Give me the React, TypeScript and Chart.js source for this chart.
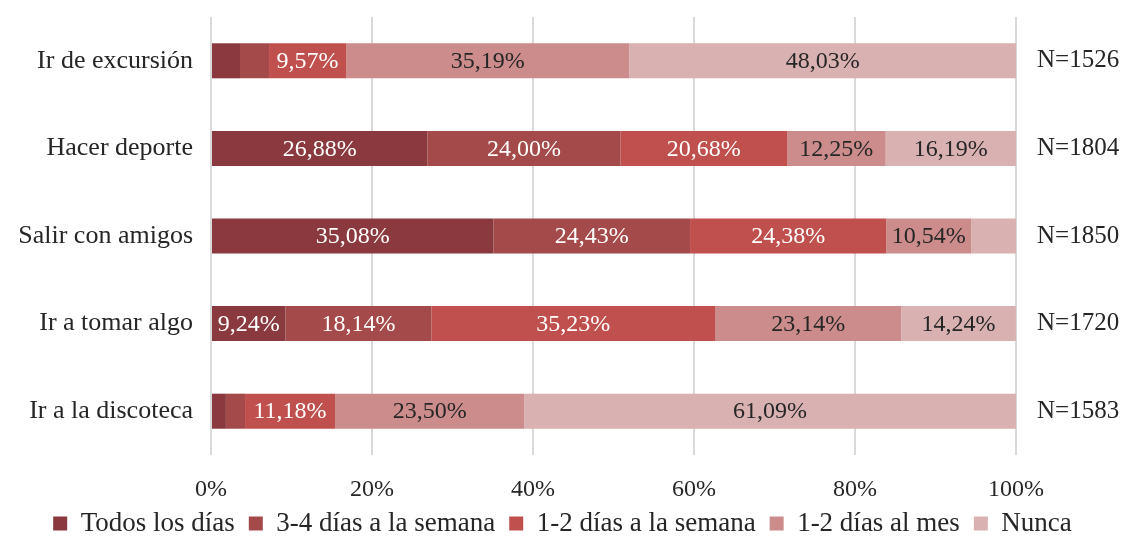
import React, { useEffect, useRef } from "react";
import { Chart, registerables } from "chart.js";

Chart.register(...registerables);

const categories = ["Ir de excursión", "Hacer deporte", "Salir con amigos", "Ir a tomar algo", "Ir a la discoteca"];
const nLabels = ["N=1526", "N=1804", "N=1850", "N=1720", "N=1583"];
const seriesNames = ["Todos los días", "3-4 días a la semana", "1-2 días a la semana", "1-2 días al mes", "Nunca"];
const todosLosDias = [3.6, 26.88, 35.08, 9.24, 1.85];
const tresCuatroSemana = [3.61, 24.0, 24.43, 18.14, 2.38];
const unoDosSemana = [9.57, 20.68, 24.38, 35.23, 11.18];
const unoDosMes = [35.19, 12.25, 10.54, 23.14, 23.5];
const nunca = [48.03, 16.19, 5.57, 14.24, 61.09];
const xTicks = [0, 20, 40, 60, 80, 100];

const colors = ["#8A3A3F", "#A44A4A", "#C0504D", "#CB8C8B", "#D9B1B1"];
const labelColors = ["#FFFFFF", "#FFFFFF", "#FFFFFF", "#262626", "#262626"];
const FONT = "'Liberation Serif', 'Times New Roman', serif";
const TEXT = "#262626";

const dataLabelPlugin = {
  id: "segLabels",
  afterDatasetsDraw(chart: any) {
    const ctx = chart.ctx;
    ctx.save();
    ctx.font = `24px ${FONT}`;
    ctx.textAlign = "center";
    ctx.textBaseline = "middle";
    chart.data.datasets.forEach((ds: any, i: number) => {
      const meta = chart.getDatasetMeta(i);
      meta.data.forEach((bar: any, j: number) => {
        const v = ds.data[j];
        if (v < 8) return;
        const txt = v.toFixed(2).replace(".", ",") + "%";
        ctx.fillStyle = labelColors[i];
        ctx.fillText(txt, (bar.x + bar.base) / 2, bar.y + 1);
      });
    });
    ctx.restore();
  },
};

export default function App() {
  const ref = useRef<HTMLCanvasElement>(null);
  useEffect(() => {
    document.body.style.margin = "0";
    const seriesData = [todosLosDias, tresCuatroSemana, unoDosSemana, unoDosMes, nunca];
    const chart = new Chart(ref.current!, {
      type: "bar",
      data: {
        labels: categories,
        datasets: seriesData.map((d, i) => ({
          label: seriesNames[i],
          data: d,
          backgroundColor: colors[i],
          borderWidth: 0,
          categoryPercentage: 0.8,
          barPercentage: 0.5,
        })),
      },
      options: {
        indexAxis: "y",
        animation: false,
        responsive: true,
        maintainAspectRatio: false,
        layout: { padding: { top: 17, bottom: -11, left: 0, right: 0 } },
        plugins: {
          tooltip: { enabled: false },
          legend: {
            position: "bottom",
            labels: {
              boxWidth: 14,
              boxHeight: 14,
              padding: 14,
              color: TEXT,
              font: { family: FONT, size: 27 },
            },
          },
        },
        scales: {
          x: {
            stacked: true,
            min: 0,
            max: 100,
            afterBuildTicks: (scale: any) => {
              scale.ticks = xTicks.map((v) => ({ value: v }));
            },
            afterFit: (scale: any) => {
              scale.height = 41;
            },
            grid: { color: "#D9D9D9", lineWidth: 2, drawTicks: false },
            border: { display: false },
            ticks: {
              padding: 20,
              color: TEXT,
              font: { family: FONT, size: 24 },
              callback: (v: any) => v + "%",
            },
          },
          y: {
            stacked: true,
            afterFit: (scale: any) => {
              scale.width = 211;
              scale.paddingTop = 0;
              scale.paddingBottom = 0;
            },
            grid: { display: false, drawTicks: false },
            border: { display: false },
            ticks: { padding: 18, color: TEXT, font: { family: FONT, size: 26 } },
          },
          y2: {
            type: "category",
            labels: nLabels,
            position: "right",
            offset: true,
            afterFit: (scale: any) => {
              scale.width = 109;
              scale.paddingTop = 0;
              scale.paddingBottom = 0;
            },
            grid: { display: false, drawTicks: false },
            border: { display: false },
            ticks: { padding: 21, color: TEXT, font: { family: FONT, size: 25 } },
          },
        },
      } as any,
      plugins: [dataLabelPlugin],
    });
    return () => chart.destroy();
  }, []);
  return (
    <div style={{ position: "absolute", left: 0, top: 0, width: 1125, height: 536 }}>
      <canvas ref={ref} />
    </div>
  );
}
